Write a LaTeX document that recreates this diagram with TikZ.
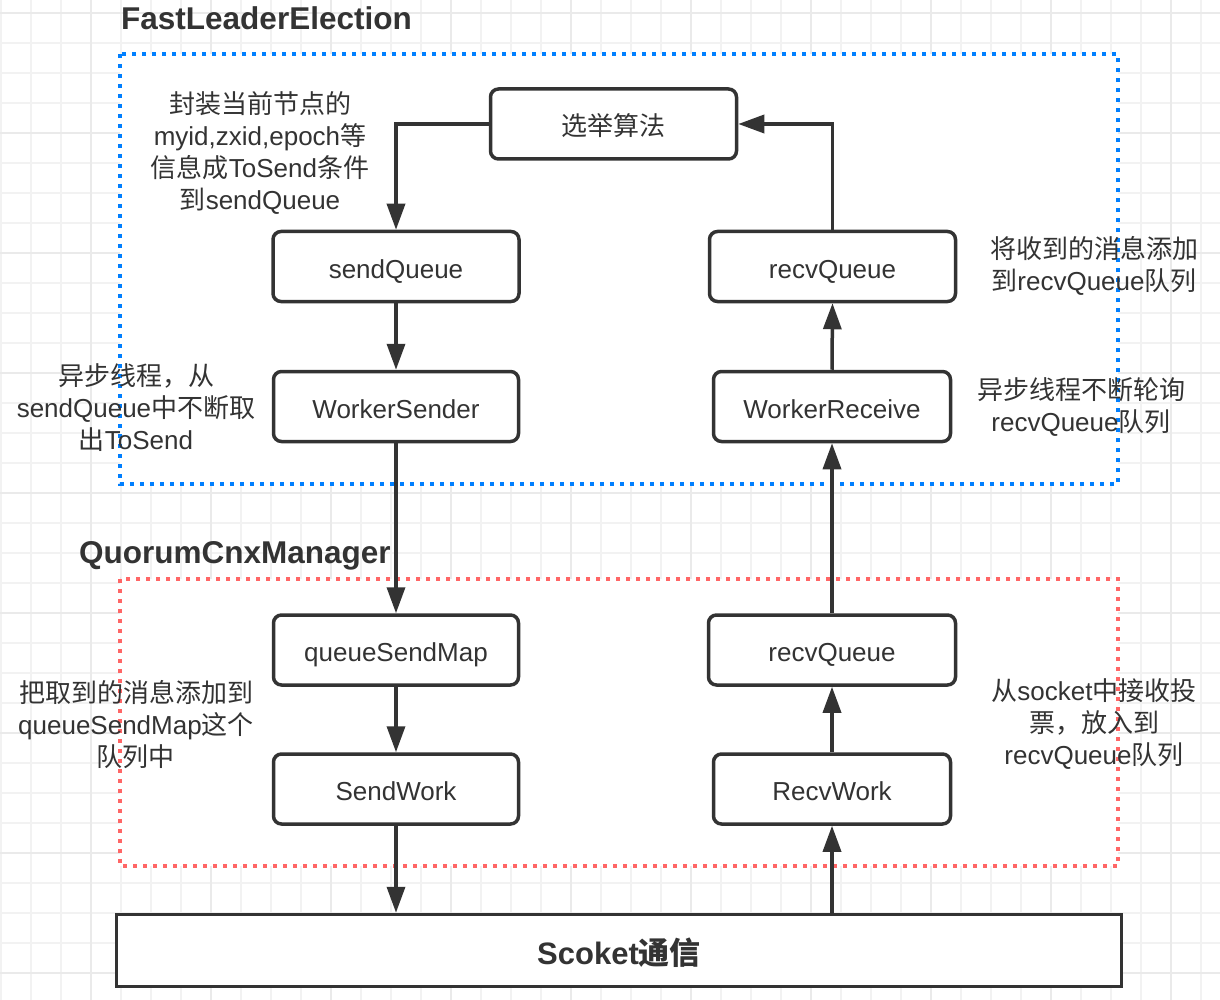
\documentclass[tikz,border=0pt]{standalone}
\usepackage{fontspec}
\setmainfont{Liberation Sans}
\newfontfamily\cjk{Noto Sans CJK SC}
\usetikzlibrary{arrows.meta}
\definecolor{txt}{HTML}{333333}
\definecolor{blueb}{HTML}{007FFF}
\definecolor{redb}{HTML}{FF6666}
\definecolor{gridl}{HTML}{F2F2F2}
\definecolor{gridd}{HTML}{EAEAEA}
\begin{document}
\begin{tikzpicture}[x=1pt,y=-1pt,
  box/.style={draw=txt, line width=3.5pt, rounded corners=8pt, fill=white,
    minimum height=70pt, inner sep=0pt, text=txt, text height=23pt, text depth=0pt,
    font=\fontsize{26}{32}\selectfont},
  sockbox/.style={draw=txt, line width=3.5pt, fill=white, minimum width=1005pt,
    minimum height=72pt, inner sep=0pt, text=txt, text height=27pt, text depth=0pt,
    font=\fontsize{31}{36}\selectfont\bfseries},
  lbl/.style={align=center, text=txt, inner sep=0pt, font=\fontsize{26}{32}\selectfont},
  ttl/.style={anchor=base west, text=txt, inner sep=0pt, font=\fontsize{31.5}{36}\selectfont\bfseries},
  arr/.style={draw=txt, line width=3.5pt, -{Triangle[length=26pt, width=18pt]}},
  grp/.style={line width=3.5pt, dash pattern=on 4pt off 6pt, fill=white}
]
\useasboundingbox (0,0) rectangle (1220,1000);
\fill[white] (0,0) rectangle (1220,1000);
% grid
\foreach \i in {0,...,40} {
  \draw[gridl, line width=2pt] ({1+30*\i},0) -- ({1+30*\i},1000);
}
\foreach \i in {0,...,33} {
  \draw[gridl, line width=2pt] (0,{13+30*\i}) -- (1220,{13+30*\i});
}
\foreach \i in {0,...,9} {
  \draw[gridd, line width=2pt] ({91+120*\i},0) -- ({91+120*\i},1000);
}
\foreach \i in {0,...,8} {
  \draw[gridd, line width=2pt] (0,{13+120*\i}) -- (1220,{13+120*\i});
}
% groups
\draw[grp, draw=blueb] (120,54) rectangle (1118,484);
\draw[grp, draw=redb] (120,579) rectangle (1118,866);
\node[ttl] (t1) at (121,30) {FastLeaderElection};
\node[ttl] (t2) at (79,563) {QuorumCnxManager};
% nodes
\node[box, minimum width=246pt] (sel) at (613.5,124) {\cjk 选举算法};
\node[box, minimum width=246pt] (sq) at (396,266.5) {sendQueue};
\node[box, minimum width=246pt] (rq1) at (832.5,266.5) {recvQueue};
\node[box, minimum width=245pt] (ws) at (396,406.5) {WorkerSender};
\node[box, minimum width=237pt] (wr) at (832,406.5) {WorkerReceive};
\node[box, minimum width=245pt] (qsm) at (396,650) {queueSendMap};
\node[box, minimum width=247pt] (rq2) at (832,650) {recvQueue};
\node[box, minimum width=245pt] (sw) at (396,789) {SendWork};
\node[box, minimum width=237pt] (rw) at (832,789) {RecvWork};
\node[sockbox] (sock) at (619,950.5) {Scoket{\cjk 通信}};
% arrows
\draw[arr] (sel.west) -| (sq.north);
\draw[arr] (rq1.north) |- (sel.east);
\draw[arr] (sq.south) -- (ws.north);
\draw[arr] (ws.south) -- (qsm.north);
\draw[arr] (qsm.south) -- (sw.north);
\draw[arr] (sw.south) -- (sw.south |- sock.north);
\draw[arr] (rw.south |- sock.north) -- (rw.south);
\draw[arr] (rw.north) -- (rq2.south);
\draw[arr] (rq2.north) -- (wr.south);
\draw[arr] (wr.north) -- (rq1.south);
% labels
\node[lbl] (l1) at (260,152.5) {{\cjk 封装当前节点的}\\myid,zxid,epoch{\cjk 等}\\{\cjk 信息成}ToSend{\cjk 条件}\\{\cjk 到}sendQueue};
\node[lbl] (l2) at (1094,265.5) {{\cjk 将收到的消息添加}\\{\cjk 到}recvQueue{\cjk 队列}};
\node[lbl] (l3) at (1081,407) {{\cjk 异步线程不断轮询}\\recvQueue{\cjk 队列}};
\node[lbl] (l4) at (136,408) {{\cjk 异步线程，从}\\sendQueue{\cjk 中不断取}\\{\cjk 出}ToSend};
\node[lbl] (l5) at (136,725) {{\cjk 把取到的消息添加到}\\queueSendMap{\cjk 这个}\\{\cjk 队列中}};
\node[lbl] (l6) at (1094,724) {{\cjk 从}socket{\cjk 中接收投}\\{\cjk 票，放入到}\\recvQueue{\cjk 队列}};
\end{tikzpicture}
\end{document}
